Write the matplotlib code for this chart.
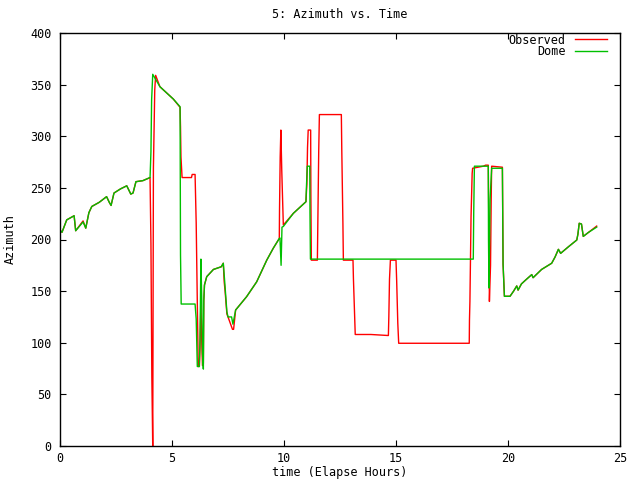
import matplotlib
matplotlib.use("Agg")
import matplotlib.pyplot as plt

# time in elapsed hours, azimuth in degrees
obs_t = [0.0, 0.09, 0.3, 0.63, 0.7, 1.03, 1.15, 1.29, 1.42, 1.75, 2.08, 2.2, 2.28,
         2.41, 2.7, 2.98, 3.16, 3.26, 3.39, 3.7, 4.02, 4.06, 4.1, 4.14, 4.17, 4.23,
         4.27, 4.46, 5.06, 5.36, 5.38, 5.4, 5.45, 5.87, 5.9, 6.03, 6.08, 6.14, 6.17,
         6.22, 6.25, 6.29, 6.33, 6.36, 6.4, 6.42, 6.45, 6.55, 6.85, 7.2, 7.29, 7.33,
         7.37, 7.45, 7.5, 7.7, 7.75, 7.84, 8.33, 8.78, 9.23, 9.52, 9.79, 9.8, 9.83,
         9.86, 9.9, 9.97, 10.42, 10.98, 11.02, 11.05, 11.08, 11.19, 11.2, 11.22,
         11.49, 11.51, 11.55, 11.58, 12.56, 12.58, 12.63, 12.65, 13.08, 13.1, 13.15,
         13.18, 13.88, 14.66, 14.68, 14.71, 14.75, 15.0, 15.03, 15.08, 15.12, 18.27,
         18.28, 18.3, 18.35, 18.4, 18.42, 18.9, 19.0, 19.12, 19.15, 19.17, 19.22,
         19.25, 19.27, 19.75, 19.78, 19.84, 20.09, 20.25, 20.39, 20.45, 20.6, 20.8,
         21.06, 21.12, 21.5, 21.95, 22.1, 22.25, 22.35, 22.7, 23.07, 23.12, 23.18,
         23.28, 23.36, 23.6, 23.96]
obs_az = [209, 207, 219, 223, 208.5, 218, 211, 226, 232, 236, 241.5, 236, 233,
          245, 249, 252, 244, 245, 256, 257, 260, 196, 67, 0, 269, 345,
          359, 348, 336, 328, 309, 280, 260, 260, 263, 263, 216, 124, 77,
          77, 95, 140, 100, 78, 80, 141, 156, 164, 171, 173.6, 177, 159,
          150, 128, 125, 113, 113, 131.7, 144.6, 159, 180, 191.5, 201, 228.6, 280,
          306, 267, 214, 225.4, 236.6, 253.7, 289, 306, 306, 243, 180,
          180, 215.7, 285.7, 321, 321, 286, 215.7, 180, 180, 161.7, 126,
          108, 108, 107, 125, 161.7, 180, 180, 160, 119, 99.5, 99.5,
          122, 140, 222, 264, 269, 271, 272, 272, 200, 140, 175,
          240, 271, 270, 176, 145, 145, 150, 155, 151, 157, 161,
          166, 163, 171, 177, 183, 190.5, 186.6, 193, 199.5, 205, 215.7,
          215, 203, 207, 213]

dome_t = [0.0, 0.09, 0.3, 0.63, 0.7, 1.03, 1.15, 1.29, 1.42, 1.75, 2.08, 2.2, 2.28,
          2.41, 2.7, 2.98, 3.16, 3.26, 3.39, 3.7, 4.02, 4.06, 4.09, 4.14, 4.46, 5.06,
          5.36, 5.38, 5.41, 6.03, 6.08, 6.13, 6.22, 6.25, 6.29, 6.33, 6.36, 6.4, 6.42,
          6.45, 6.55, 6.85, 7.2, 7.29, 7.35, 7.45, 7.5, 7.66, 7.72, 7.84, 8.33, 8.78,
          9.23, 9.52, 9.79, 9.82, 9.87, 9.91, 9.97, 10.42, 10.98, 11.0, 11.04, 11.15,
          11.16, 11.18, 18.45, 18.47, 18.5, 19.12, 19.13, 19.15, 19.2, 19.27, 19.75,
          19.78, 19.84, 20.09, 20.25, 20.39, 20.45, 20.6, 20.8, 21.06, 21.12, 21.5,
          21.95, 22.1, 22.25, 22.35, 22.7, 23.07, 23.12, 23.18, 23.28, 23.36, 23.6,
          23.96]
dome_az = [209, 207, 219, 223, 208.5, 217, 211, 226, 232, 236, 241.5, 236, 233,
           245, 249, 252, 244, 245, 256, 257, 260, 285, 335, 360, 348, 336,
           328.6, 185, 137.5, 137.5, 123, 77, 77, 102.7, 181, 140, 90, 74.5, 141,
           156, 164, 171, 173.6, 177, 160, 130, 125, 125, 118, 131.7, 144.6, 159,
           180, 191.5, 201, 201.5, 175, 212, 212.6, 225.4, 236.6, 250, 271, 271,
           226, 181, 181, 226, 271, 271, 200, 153, 239, 269, 269,
           176, 145, 145, 150, 155, 151, 157, 161, 166, 163, 171,
           177, 183, 190.5, 186.6, 193, 199.5, 205, 215.7, 215, 203, 207,
           212]

x_ticks = [0, 5, 10, 15, 20, 25]
y_ticks = [0, 50, 100, 150, 200, 250, 300, 350, 400]

plt.rcParams['font.family'] = ['DejaVu Sans Mono']
plt.rcParams['font.size'] = 8.5

fig = plt.figure(figsize=(6.4, 4.8), dpi=100)
ax = fig.add_axes([60 / 640, 34 / 480, 560 / 640, 413 / 480])

ax.plot(obs_t, obs_az, color='#ff0000', linewidth=1.0, label='Observed')
ax.plot(dome_t, dome_az, color='#00c000', linewidth=1.0, label='Dome')

ax.set_xlim(0, 25)
ax.set_ylim(0, 400)
ax.set_xticks(x_ticks)
ax.set_yticks(y_ticks)
ax.tick_params(direction='in', length=4.5, width=0.8, top=True, right=True, pad=4)
ax.tick_params(axis='y', pad=6)
for s in ax.spines.values():
    s.set_linewidth(1.0)

ax.set_title('5: Azimuth vs. Time', fontsize=8.5, pad=11)
ax.set_xlabel('time (Elapse Hours)', labelpad=1)
ax.set_ylabel('Azimuth', labelpad=10)

ax.legend(loc='upper right', frameon=False, markerfirst=False, handlelength=2.7,
          handletextpad=0.8, labelspacing=-0.1, borderaxespad=0.0,
          bbox_to_anchor=(0.985, 1.01))

fig.savefig('out.png', dpi=100)
